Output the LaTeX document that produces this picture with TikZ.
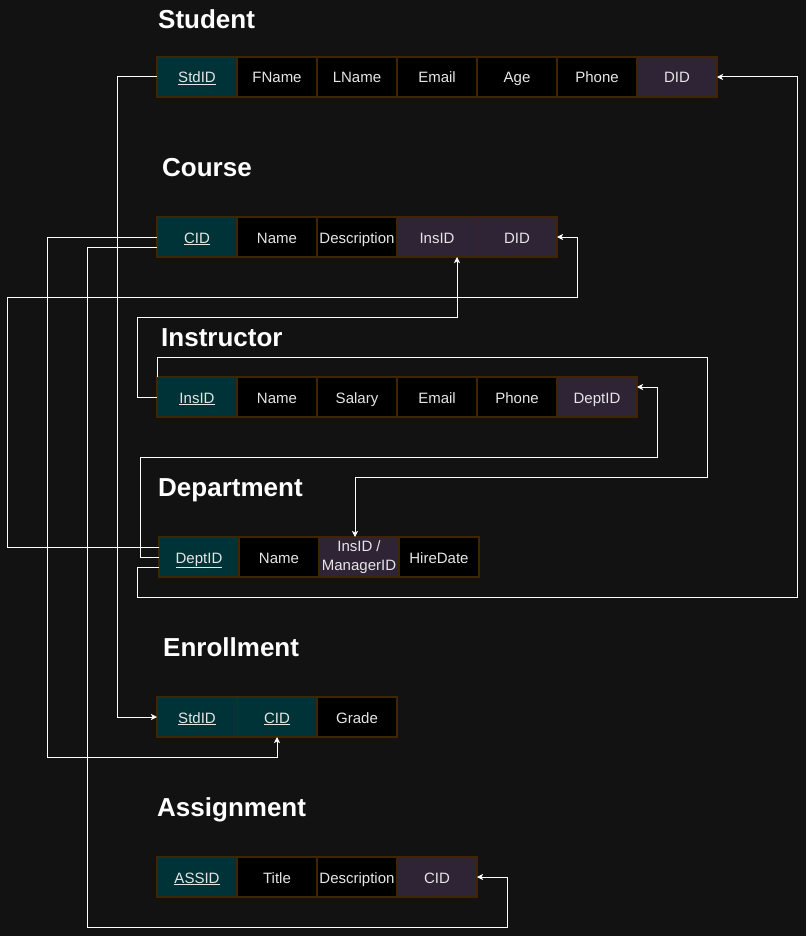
\documentclass[tikz,border=0pt]{standalone}
\usepackage{fontspec}
\setmainfont{Liberation Sans}
\usetikzlibrary{positioning, arrows.meta}
\definecolor{bg}{HTML}{121212}
\definecolor{pkteal}{HTML}{003337}
\definecolor{fkplum}{HTML}{2F2336}
\definecolor{brd}{HTML}{3D2600}
\definecolor{txt}{HTML}{E6E6E6}
\tikzset{>={Stealth[length=6pt, width=6pt, inset=1.5pt]},
  cellbase/.style={minimum width=80pt, minimum height=40pt, inner sep=0pt, outer sep=0pt, text=txt, align=center, font=\fontsize{15}{19}\selectfont},
  cell/.style={cellbase, text height=12pt, text depth=0pt},
  pk/.style={cell, fill=pkteal, draw=brd, line width=0.8pt},
  fk/.style={cell, fill=fkplum, draw=brd, line width=0.8pt},
  fktwo/.style={cellbase, fill=fkplum, draw=brd, line width=0.8pt},
  attr/.style={cell, fill=black, draw=brd, line width=2.4pt},
  tblframe/.style={draw=brd, line width=2pt},
  tblname/.style={anchor=base west, inner sep=0pt, text=white, font=\fontsize{26}{30}\selectfont\bfseries},
  link/.style={->, draw=white, line width=1pt}}

\begin{document}
\begin{tikzpicture}[x=1pt, y=-1pt]
\fill[bg] (0,0) rectangle (806,936);
\useasboundingbox (0,0) rectangle (806,936);

\node[tblname] (tStudent) at (158,29) {Student};
\node[pk] (std1) at (197,77) {\underline{StdID}};
\node[attr, right=0pt of std1] (std2) {FName};
\node[attr, right=0pt of std2] (std3) {LName};
\node[attr, right=0pt of std3] (std4) {Email};
\node[attr, right=0pt of std4] (std5) {Age};
\node[attr, right=0pt of std5] (std6) {Phone};
\node[fk, right=0pt of std6] (std7) {DID};

\node[tblname] (tCourse) at (162,176) {Course};
\node[pk] (crs1) at (197,237) {\underline{CID}};
\node[attr, right=0pt of crs1] (crs2) {Name};
\node[attr, right=0pt of crs2] (crs3) {Description};
\node[fk, right=0pt of crs3] (crs4) {InsID};
\node[fk, right=0pt of crs4] (crs5) {DID};

\node[tblname] (tInstructor) at (161,346) {Instructor};
\node[pk] (ins1) at (197,397) {\underline{InsID}};
\node[attr, right=0pt of ins1] (ins2) {Name};
\node[attr, right=0pt of ins2] (ins3) {Salary};
\node[attr, right=0pt of ins3] (ins4) {Email};
\node[attr, right=0pt of ins4] (ins5) {Phone};
\node[fk, right=0pt of ins5] (ins6) {DeptID};

\node[tblname] (tDepartment) at (158,496) {Department};
\node[pk] (dep1) at (199,557) {\underline{DeptID}};
\node[attr, right=0pt of dep1] (dep2) {Name};
\node[fktwo, right=0pt of dep2] (dep3) {InsID /\\ManagerID};
\node[attr, right=0pt of dep3] (dep4) {HireDate};

\node[tblname] (tEnrollment) at (163,656) {Enrollment};
\node[pk] (enr1) at (197,717) {\underline{StdID}};
\node[pk, right=0pt of enr1] (enr2) {\underline{CID}};
\node[attr, right=0pt of enr2] (enr3) {Grade};

\node[tblname] (tAssignment) at (157,816) {Assignment};
\node[pk] (asg1) at (197,877) {\underline{ASSID}};
\node[attr, right=0pt of asg1] (asg2) {Title};
\node[attr, right=0pt of asg2] (asg3) {Description};
\node[fk, right=0pt of asg3] (asg4) {CID};

\foreach \a/\b in {std1/std7, crs1/crs5, ins1/ins6, dep1/dep4, enr1/enr3, asg1/asg4}
  \draw[tblframe] (\a.north west) rectangle (\b.south east);

\draw[link] (std1.west) -- ++(-40,0) |- (enr1.west);
\draw[link] (crs1.west) -- ++(-110,0) -- ++(0,520) -| (enr2.south);
\draw[link] ([yshift=-10pt]crs1.west) -- ++(-70,0) -- ++(0,680) -- ++(420,0) |- (asg4.east);
\draw[link] ([yshift=10pt]dep1.west) -- ++(-152,0) -- ++(0,-250) -- ++(570,0) |- (crs5.east);
\draw[link] (ins1.west) -- ++(-20,0) -- ++(0,-80) -| ([xshift=20pt]crs4.south);
\draw[link] (dep1.west) -- ++(-19,0) -- ++(0,-100) -- ++(517,0) |- ([yshift=10pt]ins6.east);
\draw[link] (ins1.north west) -- ++(0,-20) -- ++(550,0) -- ++(0,120) -| ([xshift=-4pt]dep3.north);
\draw[link] ([yshift=-10pt]dep1.west) -- ++(-22,0) -- ++(0,30) -- ++(660,0) |- (std7.east);
\end{tikzpicture}
\end{document}
